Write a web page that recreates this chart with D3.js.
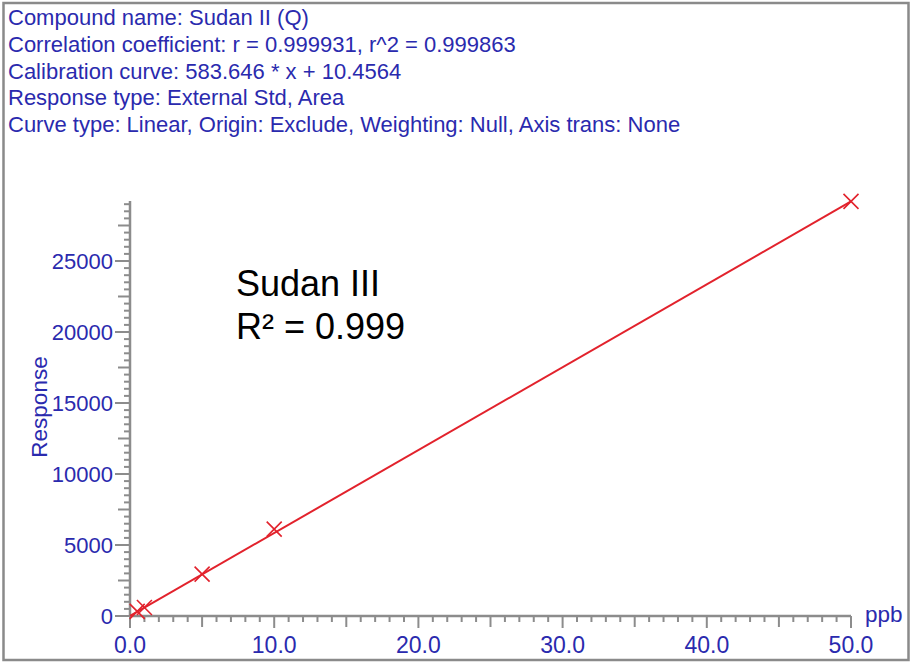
<!DOCTYPE html>
<html><head><meta charset="utf-8">
<script src="https://cdn.jsdelivr.net/npm/d3@7"></script>
<style>body{margin:0;background:#fff}svg{display:block}</style>
</head><body>
<script>
const headerLines = [
  "Compound name: Sudan II (Q)",
  "Correlation coefficient: r = 0.999931, r^2 = 0.999863",
  "Calibration curve: 583.646 * x + 10.4564",
  "Response type: External Std, Area",
  "Curve type: Linear, Origin: Exclude, Weighting: Null, Axis trans: None"
];
const conc = [0.5, 1.0, 5.0, 10.0, 50.0];
const response = [330, 600, 2950, 6120, 29200];
const slope = 583.646, intercept = 10.4564;
const xTicks = [0, 10, 20, 30, 40, 50];
const yTicks = [0, 5000, 10000, 15000, 20000, 25000];
const xLabel = "ppb", yLabel = "Response";
const annot = ["Sudan III", "R² = 0.999"];

const W = 916, H = 666;
const svg = d3.select("body").append("svg").attr("width", W).attr("height", H);
svg.append("rect").attr("x", 3.5).attr("y", 3).attr("width", 905).attr("height", 657)
  .attr("fill", "none").attr("stroke", "#8a8a8a").attr("stroke-width", 2.5);

const blue = "#2a2aae", gray = "#8c8c8c", red = "#e2222c";
const font = "'Liberation Sans', Arial, sans-serif";

svg.append("g").selectAll("text").data(headerLines).join("text")
  .attr("x", 8).attr("y", (d, i) => 25 + i * 26.8)
  .attr("font-family", font).attr("font-size", 22).attr("fill", blue).text(d => d);

const x = d3.scaleLinear().domain([0, 50]).range([130, 851]);
const y = d3.scaleLinear().domain([0, 29225]).range([616, 201]);

// axes lines
svg.append("line").attr("x1", x(0)).attr("x2", x(50)).attr("y1", y(0)).attr("y2", y(0))
  .attr("stroke", gray).attr("stroke-width", 2.5);
svg.append("line").attr("x1", x(0)).attr("x2", x(0)).attr("y1", y(0)).attr("y2", y.range()[1])
  .attr("stroke", gray).attr("stroke-width", 2.5);

// y ticks
const yMinor = d3.range(0, 29001, 500);
svg.append("g").selectAll("line").data(yMinor).join("line")
  .attr("x1", d => x(0) - (d % 5000 === 0 ? 15 : d % 2500 === 0 ? 12 : 6))
  .attr("x2", x(0)).attr("y1", d => y(d)).attr("y2", d => y(d))
  .attr("stroke", gray).attr("stroke-width", 2);
svg.append("g").selectAll("text").data(yTicks).join("text")
  .attr("x", x(0) - 17).attr("y", d => y(d) + 8).attr("text-anchor", "end")
  .attr("font-family", font).attr("font-size", 22).attr("fill", blue).text(d => d);

// x ticks
const xMinor = d3.range(0, 50.01, 1);
svg.append("g").selectAll("line").data(xMinor).join("line")
  .attr("x1", d => x(d)).attr("x2", d => x(d)).attr("y1", y(0))
  .attr("y2", d => y(0) + (d % 10 === 0 ? 12 : d % 5 === 0 ? 11 : 6))
  .attr("stroke", gray).attr("stroke-width", 2);
svg.append("g").selectAll("text").data(xTicks).join("text")
  .attr("x", d => x(d)).attr("y", 653).attr("text-anchor", "middle")
  .attr("font-family", font).attr("font-size", 23).attr("fill", blue).text(d => d.toFixed(1));

svg.append("text").attr("x", 865).attr("y", 622).attr("font-family", font)
  .attr("font-size", 22.5).attr("fill", blue).text(xLabel);
svg.append("text").attr("transform", "translate(47,407) rotate(-90)").attr("text-anchor", "middle")
  .attr("font-family", font).attr("font-size", 22.5).attr("fill", blue).text(yLabel);

// fit line
svg.append("line").attr("x1", x(0)).attr("y1", y(intercept)).attr("x2", x(50)).attr("y2", y(slope * 50 + intercept))
  .attr("stroke", red).attr("stroke-width", 2);

// points
const s = 7.5;
const pts = svg.append("g").selectAll("g").data(conc.map((c, i) => [c, response[i]])).join("g")
  .attr("transform", d => `translate(${x(d[0])},${y(d[1])})`);
pts.append("path").attr("d", `M${-s},${-s}L${s},${s}M${-s},${s}L${s},${-s}`)
  .attr("stroke", red).attr("stroke-width", 1.6).attr("fill", "none");

// annotation
svg.append("text").attr("x", 236).attr("y", 296).attr("font-family", font)
  .attr("font-size", 36).attr("fill", "#000").text(annot[0]);
svg.append("text").attr("x", 236).attr("y", 339).attr("font-family", font)
  .attr("font-size", 36).attr("fill", "#000").text(annot[1]);
</script>
</body></html>
